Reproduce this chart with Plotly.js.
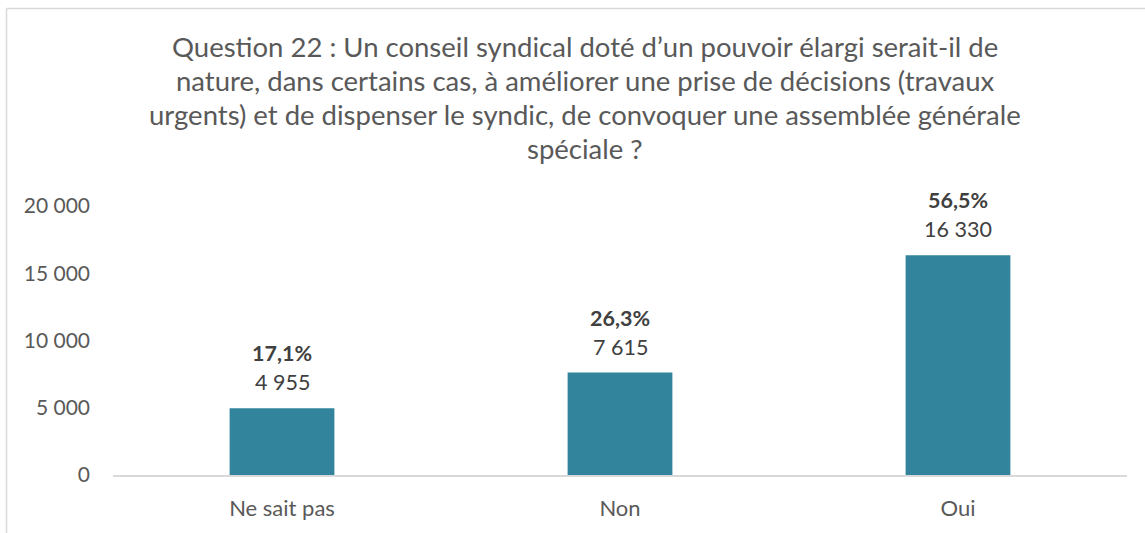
<!DOCTYPE html>
<html>
<head>
<meta charset="utf-8">
<script src="https://cdn.plot.ly/plotly-3.0.1.min.js"></script>
<style>
html,body{margin:0;padding:0;background:#fff;}
#chart{width:1145px;height:533px;}
</style>
</head>
<body>
<div id="chart"></div>
<script>
// Data
var categories = ["Ne sait pas", "Non", "Oui"];
var counts = [4955, 7615, 16330];
var percentLabels = ["17,1%", "26,3%", "56,5%"];
var countLabels = ["4 955", "7 615", "16 330"];
var titleLines = [
  "Question 22 : Un conseil syndical doté d’un pouvoir élargi serait-il de",
  "nature, dans certains cas, à améliorer une prise de décisions (travaux",
  "urgents) et de dispenser le syndic, de convoquer une assemblée générale",
  "spéciale ?"
];
var yTickVals = [0, 5000, 10000, 15000, 20000];

// Layout geometry (pixels)
var W = 1145, H = 533;
var mL = 113, mR = 18, mT = 206, mB = 58;
var plotW = W - mL - mR, plotH = H - mT - mB;
function px2paperX(px){ return (px - mL) / plotW; }
function px2paperY(py){ return (H - mB - py) / plotH; }

var FONT = "Lato, 'Noto Sans', sans-serif";
var annotations = [];

// title lines
var titleY = [46, 80, 114, 148];
titleLines.forEach(function(t, i){
  annotations.push({
    text: t, xref: "paper", yref: "paper",
    x: px2paperX(585), y: px2paperY(titleY[i]),
    xanchor: "center", yanchor: "middle", showarrow: false,
    font: {family: FONT, size: 27.5, color: "#595959"}
  });
});

// data labels
categories.forEach(function(c, i){
  annotations.push({
    text: countLabels[i], x: c, y: counts[i], xref: "x", yref: "y",
    xanchor: "center", yanchor: "middle", yshift: 26, showarrow: false,
    font: {family: FONT, size: 21.5, color: "#404040"}
  });
  annotations.push({
    text: "<b>" + percentLabels[i] + "</b>", x: c, y: counts[i], xref: "x", yref: "y",
    xanchor: "center", yanchor: "middle", yshift: 55, showarrow: false,
    font: {family: FONT, size: 21.5, color: "#404040"}
  });
});

var trace = {
  type: "bar",
  x: categories,
  y: counts,
  marker: {color: "#31849B"},
  hoverinfo: "x+y"
};

var layout = {
  width: W, height: H,
  margin: {l: mL, r: mR, t: mT, b: mB, pad: 0},
  paper_bgcolor: "#ffffff",
  plot_bgcolor: "#ffffff",
  separators: ", ",
  showlegend: false,
  bargap: 0.69,
  font: {family: FONT, color: "#595959"},
  xaxis: {
    showgrid: false, zeroline: false,
    showline: true, linecolor: "#d9d9d9", linewidth: 1.5,
    ticks: "", ticklabelstandoff: 13,
    tickfont: {family: FONT, size: 22, color: "#595959"},
    fixedrange: true
  },
  yaxis: {
    range: [0, 20000],
    tickvals: yTickVals, tickformat: ",d",
    showgrid: false, zeroline: false, showline: false,
    ticks: "", ticklabelstandoff: 22,
    tickfont: {family: FONT, size: 21, color: "#595959"},
    fixedrange: true
  },
  annotations: annotations,
  shapes: [
    {type: "line", xref: "paper", yref: "paper",
     x0: px2paperX(6.5), x1: px2paperX(6.5), y0: px2paperY(8.5), y1: px2paperY(545),
     line: {color: "#d9d9d9", width: 1.5}},
    {type: "line", xref: "paper", yref: "paper",
     x0: px2paperX(6.5), x1: px2paperX(1160), y0: px2paperY(8.5), y1: px2paperY(8.5),
     line: {color: "#d9d9d9", width: 1.5}}
  ]
};

Plotly.newPlot("chart", [trace], layout, {displayModeBar: false, staticPlot: true});
</script>
</body>
</html>
